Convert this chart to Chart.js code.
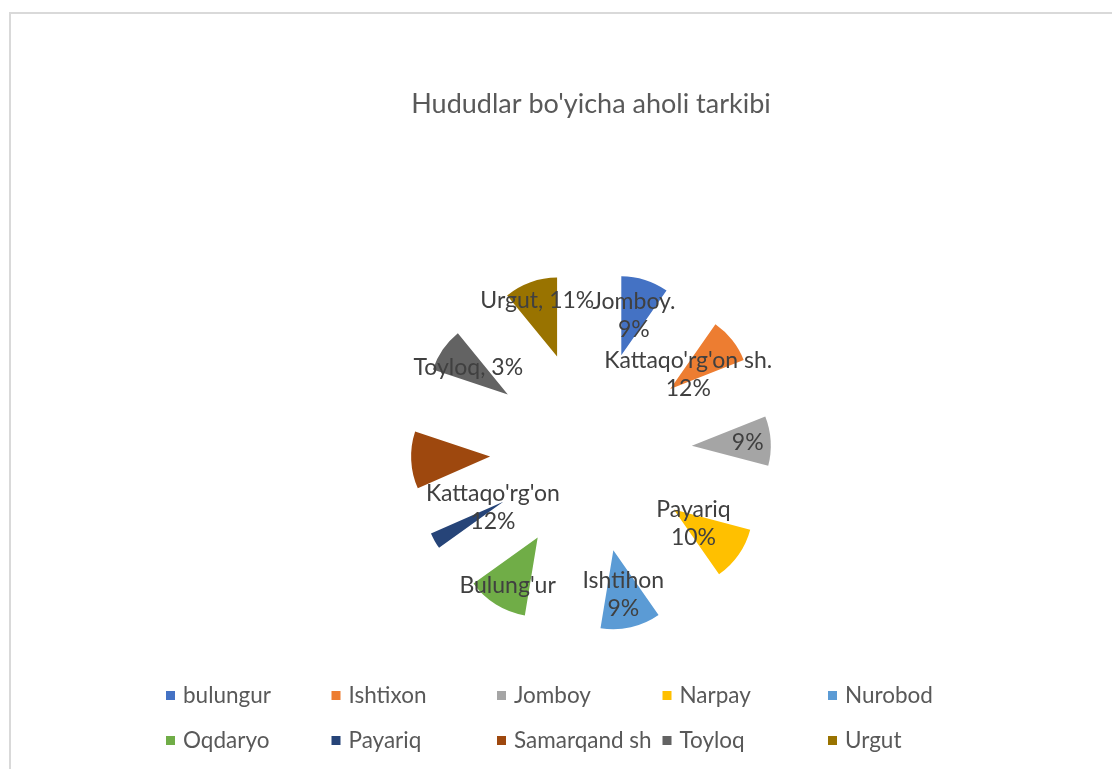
<!DOCTYPE html>
<html>
<head>
<meta charset="utf-8">
<title>Hududlar bo'yicha aholi tarkibi</title>
<script src="https://cdn.jsdelivr.net/npm/chart.js@4.4.1/dist/chart.umd.min.js"></script>
<style>
  html, body { margin: 0; padding: 0; background: #fff; }
  #wrap { position: relative; width: 1112px; height: 769px; overflow: hidden; }
  #frame {
    position: absolute; left: 9px; top: 12px; width: 1300px; height: 900px;
    border-left: 2px solid #d9d9d9; border-top: 2px solid #d9d9d9;
  }
  canvas { position: absolute; left: 0; top: 0; }
</style>
</head>
<body>
<div id="wrap">
  <div id="frame"></div>
  <canvas id="pieChart" width="1112" height="769"></canvas>
</div>
<script>
// districts, in legend order
const regions = ["bulungur", "Ishtixon", "Jomboy", "Narpay", "Nurobod",
                 "Oqdaryo", "Payariq", "Samarqand sh", "Toyloq", "Urgut"];
// share of population, %
const shares = [9.7, 9.3, 10.1, 11.2, 12.3, 12.5, 3.3, 11.7, 9.0, 10.9];
const sliceColors = ["#4472C4", "#ED7D31", "#A5A5A5", "#FFC000", "#5B9BD5",
                     "#70AD47", "#264478", "#9E480E", "#636363", "#997300"];
// data labels as they appear on the sheet (they don't follow the legend names)
const dataLabels = [
  ["Jomboy.", "9%"],
  ["Kattaqo'rg'on sh.", "12%"],
  ["9%"],
  ["Payariq", "10%"],
  ["Ishtihon", "9%"],
  ["Bulung'ur"],
  ["Kattaqo'rg'on", "12%"],
  [],
  ["Toyloq, 3%"],
  ["Urgut, 11%"]
];

const FONT = "Lato, 'Open Sans', sans-serif";
const explodeBy = 101;                 // px every slice is pulled out
const labelDistance = [143, 124, 157, 125, 146, 158, 113, 0, 149, 160];

// pull every slice away from the centre (Excel style explosion)
const explodePlugin = {
  id: "explode",
  beforeDatasetsDraw(chart) {
    const { left, right, top, bottom } = chart.chartArea;
    const cx = (left + right) / 2;
    const cy = (top + bottom) / 2;
    chart.getDatasetMeta(0).data.forEach((arc) => {
      const mid = (arc.startAngle + arc.endAngle) / 2;
      arc.x = cx + Math.cos(mid) * explodeBy;
      arc.y = cy + Math.sin(mid) * explodeBy;
    });
  },
};

const labelPlugin = {
  id: "sliceLabels",
  afterDatasetsDraw(chart) {
    const ctx = chart.ctx;
    const { left, right, top, bottom } = chart.chartArea;
    const cx = (left + right) / 2;
    const cy = (top + bottom) / 2;
    ctx.save();
    ctx.font = "23px " + FONT;
    ctx.fillStyle = "#404040";
    ctx.textAlign = "center";
    ctx.textBaseline = "middle";
    chart.getDatasetMeta(0).data.forEach((arc, i) => {
      const lines = dataLabels[i];
      if (!lines.length) return;
      const mid = (arc.startAngle + arc.endAngle) / 2;
      const x = cx + Math.cos(mid) * labelDistance[i];
      const y = cy + Math.sin(mid) * labelDistance[i];
      const first = y - (lines.length - 1) * 14;
      lines.forEach((t, k) => ctx.fillText(t, x, first + k * 28));
    });
    ctx.restore();
  },
};

// legend laid out in fixed columns like the Office one
const legendPlugin = {
  id: "gridLegend",
  afterDraw(chart) {
    const ctx = chart.ctx;
    ctx.save();
    ctx.font = "22.5px " + FONT;
    ctx.textBaseline = "middle";
    ctx.textAlign = "left";
    regions.forEach((name, i) => {
      const col = i % 5;
      const row = Math.floor(i / 5);
      const x = 166 + col * 165.5;
      const y = 696 + row * 45;
      ctx.fillStyle = sliceColors[i];
      ctx.fillRect(x, y - 5, 9, 9);
      ctx.fillStyle = "#595959";
      ctx.fillText(name, x + 17, y);
    });
    ctx.restore();
  },
};

const ctx = document.getElementById("pieChart").getContext("2d");
const pieChart = new Chart(ctx, {
  type: "pie",
  data: {
    labels: regions,
    datasets: [
      {
        data: shares,
        backgroundColor: sliceColors,
        borderWidth: 0,
        radius: 79,
      },
    ],
  },
  options: {
    responsive: false,
    animation: false,
    layout: { padding: { left: 70, right: 0, top: 0, bottom: 24 } },
    plugins: {
      legend: { display: false },
      tooltip: { enabled: false },
      title: {
        display: true,
        text: "Hududlar bo'yicha aholi tarkibi",
        color: "#595959",
        font: { family: FONT, size: 27, weight: "normal" },
        padding: { top: 88, bottom: 38 },
      },
    },
  },
  plugins: [explodePlugin, labelPlugin, legendPlugin],
});
</script>
</body>
</html>
